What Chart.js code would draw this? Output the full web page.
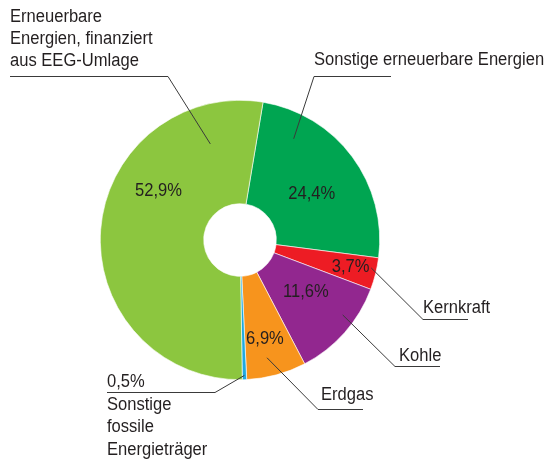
<!DOCTYPE html>
<html>
<head>
<meta charset="utf-8">
<script src="https://cdn.jsdelivr.net/npm/chart.js@4"></script>
<style>
  body { margin: 0; background: #fff; }
  canvas { display: block; }
</style>
</head>
<body>
<canvas id="mixChart" width="546" height="461"></canvas>
<script>
// Slices in clockwise order, starting just right of the top
var categories = ['Sonstige erneuerbare Energien', 'Kernkraft', 'Kohle', 'Erdgas',
                  'Sonstige fossile Energieträger', 'Erneuerbare Energien, finanziert aus EEG-Umlage'];
var shares = [24.4, 3.7, 11.6, 6.9, 0.5, 52.9];

var sliceColors = ['#00a551', '#ed1c24', '#92278f', '#f7941d', '#1fa9e1', '#8cc63f'];
var textColor = '#231f20';
var font = '18px "Liberation Sans", Arial, sans-serif';
var squeeze = 0.92; // the original type is a condensed face

function pct(v) {
   return v.toFixed(1).replace('.', ',') + '%';
}

// where the percent text sits inside each slice: t = position along the arc, r = share of outer radius
var innerLabels = [
   { t: 0.545, r: 0.61 },
   { t: 0.48, r: 0.815 },
   { t: 0.42, r: 0.6 },
   { t: 0.54, r: 0.73 },
   null,
   { t: 0.64, r: 0.68 }
];

// outside labels with leader lines (start point comes from the slice, the rest is layout)
var callouts = [
   { t: 0.21, r: 0.82, elbow: [314, 76], end: [391, 76], x: 314, lines: [['Sonstige erneuerbare Energien', 65]] },
   { t: 0.35, r: 0.96, elbow: [423, 319], end: [468, 319], x: 423, lines: [['Kernkraft', 313]] },
   { t: 0.37, r: 0.91, elbow: [395, 366], end: [440, 366], x: 399, lines: [['Kohle', 361]] },
   { t: 0.59, r: 0.865, elbow: [318, 409], end: [363, 409], x: 321, lines: [['Erdgas', 400]] },
   { t: 0.5, r: 0.97, elbow: [215, 392], end: [107, 392], x: 107,
     lines: [['0,5%', 387], ['Sonstige', 410], ['fossile', 432], ['Energieträger', 455]] },
   { t: 0.86, r: 0.72, elbow: [168, 76], end: [10, 76], x: 10,
     lines: [['Erneuerbare', 22], ['Energien, finanziert', 44], ['aus EEG-Umlage', 66]] }
];

function pointOnArc(arc, t, r) {
   var p = arc.getProps(['x', 'y', 'startAngle', 'endAngle', 'outerRadius'], true);
   var a = p.startAngle + t * (p.endAngle - p.startAngle);
   return [p.x + Math.cos(a) * p.outerRadius * r, p.y + Math.sin(a) * p.outerRadius * r];
}

function drawText(ctx, s, x, y) {
   ctx.save();
   ctx.translate(x, y);
   ctx.scale(squeeze, 1);
   ctx.fillText(s, 0, 0);
   ctx.restore();
}

var labelPlugin = {
   id: 'labels',
   afterDatasetsDraw: function (chart) {
      var ctx = chart.ctx;
      var arcs = chart.getDatasetMeta(0).data;
      ctx.save();
      ctx.font = font;
      ctx.fillStyle = textColor;

      // percent values inside the slices
      ctx.textAlign = 'center';
      ctx.textBaseline = 'middle';
      innerLabels.forEach(function (lab, i) {
         if (!lab) return;
         var pt = pointOnArc(arcs[i], lab.t, lab.r);
         drawText(ctx, pct(shares[i]), pt[0], pt[1]);
      });

      // leader lines and category names
      ctx.strokeStyle = '#3a3a3a';
      ctx.lineWidth = 1;
      ctx.textAlign = 'left';
      ctx.textBaseline = 'alphabetic';
      callouts.forEach(function (c, i) {
         var start = pointOnArc(arcs[i], c.t, c.r);
         ctx.beginPath();
         ctx.moveTo(start[0], start[1]);
         ctx.lineTo(c.elbow[0], c.elbow[1] + 0.5);
         ctx.lineTo(c.end[0], c.end[1] + 0.5);
         ctx.stroke();
         c.lines.forEach(function (ln) {
            drawText(ctx, ln[0], c.x, ln[1]);
         });
      });
      ctx.restore();
   }
};

var ctx = document.getElementById('mixChart').getContext('2d');
new Chart(ctx, {
   type: 'doughnut',
   data: {
      labels: categories,
      datasets: [{
         data: shares,
         backgroundColor: sliceColors,
         borderColor: '#ffffff',
         borderWidth: 0.6
      }]
   },
   options: {
      responsive: false,
      animation: false,
      rotation: 9.5,
      cutout: '26%',
      layout: {
         padding: { left: 100, top: 100, right: 166, bottom: 81 }
      },
      plugins: {
         legend: { display: false },
         tooltip: { enabled: false }
      }
   },
   plugins: [labelPlugin]
});
</script>
</body>
</html>
